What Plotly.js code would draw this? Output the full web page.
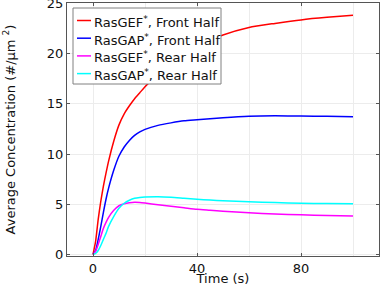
<!DOCTYPE html>
<html>
<head>
<meta charset="utf-8">
<script src="https://cdn.plot.ly/plotly-3.0.1.min.js"></script>
<style>html,body{margin:0;padding:0;background:#fff;}#chart{width:382px;height:286px;}</style>
</head>
<body>
<div id="chart"></div>
<script>
var time = [0,1,2,3,4,5,6,8,10,12,14,16,18,20,25,30,35,40,45,50,60,70,80,90,100];
var gefFront = [0,1.3,3.5,5.3,6.8,8.1,9.3,11.3,12.9,14.0,14.8,15.5,16.1,16.7,17.9,19.0,19.9,20.6,21.3,21.85,22.6,23.0,23.35,23.6,23.8];
var gapFront = [0,0.4,1.5,2.8,4.2,5.5,6.6,8.4,9.8,10.7,11.35,11.85,12.2,12.45,12.85,13.1,13.3,13.4,13.5,13.6,13.75,13.8,13.78,13.75,13.7];
var gefRear = [0,0.3,1.0,1.8,2.6,3.2,3.7,4.4,4.85,5.05,5.15,5.2,5.18,5.12,4.95,4.8,4.65,4.5,4.4,4.3,4.15,4.03,3.95,3.88,3.83];
var gapRear = [0,0.1,0.4,0.9,1.5,2.1,2.8,3.8,4.6,5.1,5.4,5.6,5.68,5.72,5.75,5.7,5.6,5.5,5.42,5.35,5.25,5.17,5.1,5.07,5.05];
var seriesNames = ['RasGEF<sup>*</sup>, Front Half','RasGAP<sup>*</sup>, Front Half','RasGEF<sup>*</sup>, Rear Half','RasGAP<sup>*</sup>, Rear Half'];
var seriesColors = ['#ff0000','#0000ff','#ff00ff','#00ffff'];
var seriesValues = [gefFront, gapFront, gefRear, gapRear];
var xTicks = [0,40,80];
var xMinorGrid = [20,60,100];
var yTicks = [0,5,10,15,20,25];

var traces = seriesValues.map(function(v,i){
  return {x: time, y: v, type:'scatter', mode:'lines', name: seriesNames[i], showlegend:false,
          line:{color: seriesColors[i], width:1.5, shape:'spline', smoothing:0.6}};
});

// legend drawn in paper coordinates (pixel layout of the plot area: x 67..379, y 3..256)
var PL = 67, PW = 312, PB = 256, PH = 253;
function px(x){ return (x - PL) / PW; }
function py(y){ return (PB - y) / PH; }
var shapes = [{type:'rect', xref:'paper', yref:'paper', x0:px(73), x1:px(221), y0:py(84), y1:py(8),
               line:{color:'#808080', width:1}, fillcolor:'#ffffff', layer:'above'}];
var annotations = [];
var rowY = [20.5, 38.2, 55.9, 73.6];
seriesNames.forEach(function(n,i){
  shapes.push({type:'line', xref:'paper', yref:'paper', x0:px(77), x1:px(91), y0:py(rowY[i]), y1:py(rowY[i]),
               line:{color:seriesColors[i], width:1.5}, layer:'above'});
  annotations.push({xref:'paper', yref:'paper', x:px(92), y:py(rowY[i]+1.5), xanchor:'left', yanchor:'middle',
                    text:n, showarrow:false, font:{size:13, color:'#111'}});
});

var font = 'DejaVu Sans, sans-serif';
var layout = {
  width:382, height:286,
  margin:{l:67, r:3, t:3, b:30},
  paper_bgcolor:'#fff', plot_bgcolor:'#fff',
  font:{family:font, size:13, color:'#111'},
  xaxis:{range:[-10,110], tickvals:xTicks, ticktext:xTicks.map(String),
         showline:true, mirror:'ticks', linecolor:'#555', linewidth:1,
         ticks:'inside', ticklen:3, tickcolor:'#555',
         showgrid:true, gridcolor:'#ececec', gridwidth:1, zeroline:false,
         minor:{tickvals:xMinorGrid, showgrid:true, gridcolor:'#ececec', ticks:''},
         tickfont:{size:13, color:'#111'},
         title:{text:'Time (s)', font:{size:13, color:'#111'}, standoff:7}},
  yaxis:{range:[-0.15,25.03], tickvals:yTicks, ticktext:yTicks.map(String),
         showline:true, mirror:'ticks', linecolor:'#555', linewidth:1,
         ticks:'inside', ticklen:3, tickcolor:'#555', ticklabeloverflow:'allow',
         showgrid:true, gridcolor:'#ececec', gridwidth:1, zeroline:false,
         tickfont:{size:13, color:'#111'},
         title:{text:'Average Concentration (#/μm <sup>2</sup>)', font:{size:13, color:'#111'}, standoff:28}},
  showlegend:false,
  shapes:shapes,
  annotations:annotations
};
Plotly.newPlot('chart', traces, layout, {displayModeBar:false, staticPlot:true});
</script>
</body>
</html>
